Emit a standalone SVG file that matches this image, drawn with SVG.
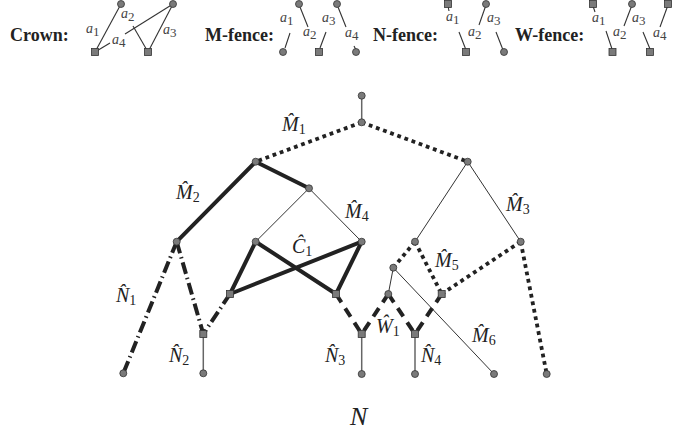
<svg xmlns="http://www.w3.org/2000/svg" width="698" height="442" viewBox="0 0 698 442">
<style>
.bg{fill:#fff}
.c{fill:#7a7a7a;stroke:#333;stroke-width:0.8}
.s{fill:#7a7a7a;stroke:#333;stroke-width:0.8}
.thin{stroke:#333;stroke-width:1;fill:none}
.gray{stroke:#666;stroke-width:1.5;fill:none}
.thick{stroke:#222;stroke-width:4;fill:none;stroke-linecap:round}
.dot{stroke:#222;stroke-width:3.8;fill:none;stroke-dasharray:3.8 3.8}
.dashdot{stroke:#222;stroke-width:4;fill:none;stroke-dasharray:12 4 1.5 4}
.dash{stroke:#222;stroke-width:4;fill:none;stroke-dasharray:10 7}
.leg{stroke:#333;stroke-width:1.1;fill:none}
.title{font-family:"Liberation Serif",serif;font-weight:bold;font-size:18px;fill:#222}
.a{font-family:"Liberation Serif",serif;font-style:italic;font-size:14px;fill:#444}
.as{font-family:"Liberation Serif",serif;font-style:normal;font-size:13px}
.lab{font-family:"Liberation Serif",serif;font-style:italic;font-size:20px;fill:#222}
.sub{font-style:normal;font-size:14px}
.big{font-family:"Liberation Serif",serif;font-style:italic;font-size:26px;fill:#222}
</style>
<rect class="bg" x="0" y="0" width="698" height="442"/>

<!-- Legend -->
<g id="legend-crown">
<text class="title" x="10" y="41">Crown:</text>
<line class="leg" x1="121" y1="4" x2="95" y2="52"/>
<line class="leg" x1="173" y1="4" x2="148" y2="52"/>
<line class="leg" x1="173" y1="4" x2="125" y2="34"/>
<line class="leg" x1="95" y1="52" x2="110" y2="43"/>
<line class="leg" x1="133" y1="26" x2="148" y2="52"/>
<circle class="c" cx="121" cy="4" r="3.5"/>
<circle class="c" cx="173" cy="4" r="3.5"/>
<rect class="s" x="91.5" y="48.5" width="7" height="7"/>
<rect class="s" x="144.5" y="48.5" width="7" height="7"/>
<text class="a" x="86" y="33">a<tspan class="as" dy="3">1</tspan></text>
<text class="a" x="121" y="18">a<tspan class="as" dy="3">2</tspan></text>
<text class="a" x="163" y="34">a<tspan class="as" dy="3">3</tspan></text>
<text class="a" x="112" y="44">a<tspan class="as" dy="3">4</tspan></text>
</g>

<g id="legend-mfence">
<text class="title" x="205" y="41">M-fence:</text>
<line class="leg" x1="285" y1="48" x2="290" y2="33"/>
<line class="leg" x1="300" y1="7" x2="308" y2="27"/>
<line class="leg" x1="320" y1="48" x2="326" y2="32"/>
<line class="leg" x1="338" y1="7" x2="346" y2="27"/>
<line class="leg" x1="354" y1="46" x2="356" y2="50"/>
<circle class="c" cx="299" cy="4" r="3.5"/>
<circle class="c" cx="337" cy="4" r="3.5"/>
<circle class="c" cx="283" cy="52" r="3.5"/>
<rect class="s" x="315.5" y="48.5" width="7" height="7"/>
<circle class="c" cx="356" cy="52" r="3.5"/>
<text class="a" x="280" y="22">a<tspan class="as" dy="3">1</tspan></text>
<text class="a" x="303" y="36">a<tspan class="as" dy="3">2</tspan></text>
<text class="a" x="322" y="22">a<tspan class="as" dy="3">3</tspan></text>
<text class="a" x="345" y="37">a<tspan class="as" dy="3">4</tspan></text>
</g>

<g id="legend-nfence">
<text class="title" x="373" y="41">N-fence:</text>
<line class="leg" x1="448" y1="6" x2="449" y2="11"/>
<line class="leg" x1="459" y1="32" x2="466" y2="50"/>
<line class="leg" x1="486" y1="5" x2="479" y2="25"/>
<line class="leg" x1="496" y1="32" x2="503" y2="50"/>
<rect class="s" x="444.5" y="0.5" width="7" height="7"/>
<circle class="c" cx="486" cy="4" r="3.5"/>
<rect class="s" x="462.5" y="48.5" width="7" height="7"/>
<circle class="c" cx="504" cy="52" r="3.5"/>
<text class="a" x="446" y="21">a<tspan class="as" dy="3">1</tspan></text>
<text class="a" x="468" y="36">a<tspan class="as" dy="3">2</tspan></text>
<text class="a" x="487" y="22">a<tspan class="as" dy="3">3</tspan></text>
</g>

<g id="legend-wfence">
<text class="title" x="515" y="41">W-fence:</text>
<line class="leg" x1="593" y1="6" x2="595" y2="12"/>
<line class="leg" x1="606" y1="31" x2="612" y2="49"/>
<line class="leg" x1="632" y1="5" x2="624" y2="26"/>
<line class="leg" x1="643" y1="32" x2="650" y2="49"/>
<line class="leg" x1="668" y1="5" x2="660" y2="27"/>
<rect class="s" x="589.5" y="0.5" width="7" height="7"/>
<circle class="c" cx="632" cy="4" r="3.5"/>
<rect class="s" x="664.5" y="0.5" width="7" height="7"/>
<rect class="s" x="609" y="48.5" width="7" height="7"/>
<rect class="s" x="646.5" y="48.5" width="7" height="7"/>
<text class="a" x="592" y="22">a<tspan class="as" dy="3">1</tspan></text>
<text class="a" x="613" y="36">a<tspan class="as" dy="3">2</tspan></text>
<text class="a" x="632" y="22">a<tspan class="as" dy="3">3</tspan></text>
<text class="a" x="653" y="37">a<tspan class="as" dy="3">4</tspan></text>
</g>

<!-- Connectors -->
<g id="connectors">
<line class="gray" x1="361.7" y1="95.7" x2="361.7" y2="122.3"/>
<line class="dot" x1="361.7" y1="122.3" x2="255.7" y2="161.7"/>
<line class="dot" x1="361.7" y1="122.3" x2="467.7" y2="161.7"/>
<line class="thick" x1="255.7" y1="161.7" x2="176.7" y2="241.7"/>
<line class="thick" x1="255.7" y1="161.7" x2="309" y2="188.3"/>
<line class="thin" x1="309" y1="188.3" x2="255.7" y2="241.7"/>
<line class="thin" x1="309" y1="188.3" x2="361.7" y2="241.7"/>
<line class="thin" x1="467.7" y1="161.7" x2="415" y2="241.7"/>
<line class="thin" x1="467.7" y1="161.7" x2="520.7" y2="241.7"/>
<line class="dashdot" x1="176.7" y1="241.7" x2="123.3" y2="373.3"/>
<line class="dashdot" x1="176.7" y1="241.7" x2="203.3" y2="334"/>
<line class="dashdot" x1="230" y1="294" x2="203.3" y2="334"/>
<line class="gray" x1="203.3" y1="334" x2="203.3" y2="373.3"/>
<line class="thick" x1="255.7" y1="241.7" x2="230" y2="294"/>
<line class="thick" x1="255.7" y1="241.7" x2="336" y2="294"/>
<line class="thick" x1="361.7" y1="241.7" x2="230" y2="294"/>
<line class="thick" x1="361.7" y1="241.7" x2="336" y2="294"/>
<line class="dash" x1="336" y1="294" x2="361.7" y2="334"/>
<line class="dash" x1="388.3" y1="294" x2="361.7" y2="334"/>
<line class="dash" x1="388.3" y1="294" x2="415" y2="334"/>
<line class="dash" x1="441.7" y1="294" x2="415" y2="334"/>
<line class="gray" x1="361.7" y1="334" x2="361.7" y2="374"/>
<line class="gray" x1="415" y1="334" x2="415" y2="374"/>
<line class="dot" x1="415" y1="241.7" x2="393.3" y2="267.7"/>
<line class="dot" x1="415" y1="241.7" x2="441.7" y2="294"/>
<line class="dot" x1="520.7" y1="241.7" x2="441.7" y2="294"/>
<line class="dot" x1="520.7" y1="241.7" x2="546.7" y2="374"/>
<line class="thin" x1="393.3" y1="267.7" x2="388.3" y2="294"/>
<line class="thin" x1="393.3" y1="267.7" x2="494" y2="374"/>
</g>

<!-- Nodes -->
<g id="n-root"><circle class="c" cx="361.7" cy="95.7" r="3.5"/></g>
<g id="n-m1"><circle class="c" cx="361.7" cy="122.3" r="3.5"/></g>
<g id="n-m2"><circle class="c" cx="255.7" cy="161.7" r="3.5"/></g>
<g id="n-m3"><circle class="c" cx="467.7" cy="161.7" r="3.5"/></g>
<g id="n-m4"><circle class="c" cx="309" cy="188.3" r="3.5"/></g>
<g id="n-a"><circle class="c" cx="176.7" cy="241.7" r="3.5"/></g>
<g id="n-b"><circle class="c" cx="255.7" cy="241.7" r="3.5"/></g>
<g id="n-c"><circle class="c" cx="361.7" cy="241.7" r="3.5"/></g>
<g id="n-d"><circle class="c" cx="415" cy="241.7" r="3.5"/></g>
<g id="n-e"><circle class="c" cx="520.7" cy="241.7" r="3.5"/></g>
<g id="n-f"><circle class="c" cx="393.3" cy="267.7" r="3.5"/></g>
<g id="n-g"><circle class="c" cx="388.3" cy="294" r="3.5"/></g>
<g id="s-1"><rect class="s" x="226.5" y="290.5" width="7" height="7"/></g>
<g id="s-2"><rect class="s" x="332.5" y="290.5" width="7" height="7"/></g>
<g id="s-3"><rect class="s" x="438.2" y="290.5" width="7" height="7"/></g>
<g id="s-4"><rect class="s" x="199.8" y="330.5" width="7" height="7"/></g>
<g id="s-5"><rect class="s" x="358.2" y="330.5" width="7" height="7"/></g>
<g id="s-6"><rect class="s" x="411.5" y="330.5" width="7" height="7"/></g>
<g id="leaf-1"><circle class="c" cx="123.3" cy="373.3" r="3.5"/></g>
<g id="leaf-2"><circle class="c" cx="203.3" cy="373.3" r="3.5"/></g>
<g id="leaf-3"><circle class="c" cx="361.7" cy="374" r="3.5"/></g>
<g id="leaf-4"><circle class="c" cx="415" cy="374" r="3.5"/></g>
<g id="leaf-5"><circle class="c" cx="494" cy="374" r="3.5"/></g>
<g id="leaf-6"><circle class="c" cx="546.7" cy="374" r="3.5"/></g>

<!-- Labels -->
<g id="labels">
<text class="lab" x="282" y="131">M̂<tspan class="sub" dy="3">1</tspan></text>
<text class="lab" x="176" y="199">M̂<tspan class="sub" dy="3">2</tspan></text>
<text class="lab" x="506" y="211">M̂<tspan class="sub" dy="3">3</tspan></text>
<text class="lab" x="345" y="218">M̂<tspan class="sub" dy="3">4</tspan></text>
<text class="lab" x="435" y="267">M̂<tspan class="sub" dy="3">5</tspan></text>
<text class="lab" x="472" y="342">M̂<tspan class="sub" dy="3">6</tspan></text>
<text class="lab" x="292" y="253">Ĉ<tspan class="sub" dy="3">1</tspan></text>
<text class="lab" x="116" y="302">N̂<tspan class="sub" dy="3">1</tspan></text>
<text class="lab" x="169" y="362">N̂<tspan class="sub" dy="3">2</tspan></text>
<text class="lab" x="325" y="362">N̂<tspan class="sub" dy="3">3</tspan></text>
<text class="lab" x="421" y="362">N̂<tspan class="sub" dy="3">4</tspan></text>
<text class="lab" x="376" y="333">Ŵ<tspan class="sub" dy="3">1</tspan></text>
<text class="big" x="350" y="425">N</text>
</g>
</svg>
